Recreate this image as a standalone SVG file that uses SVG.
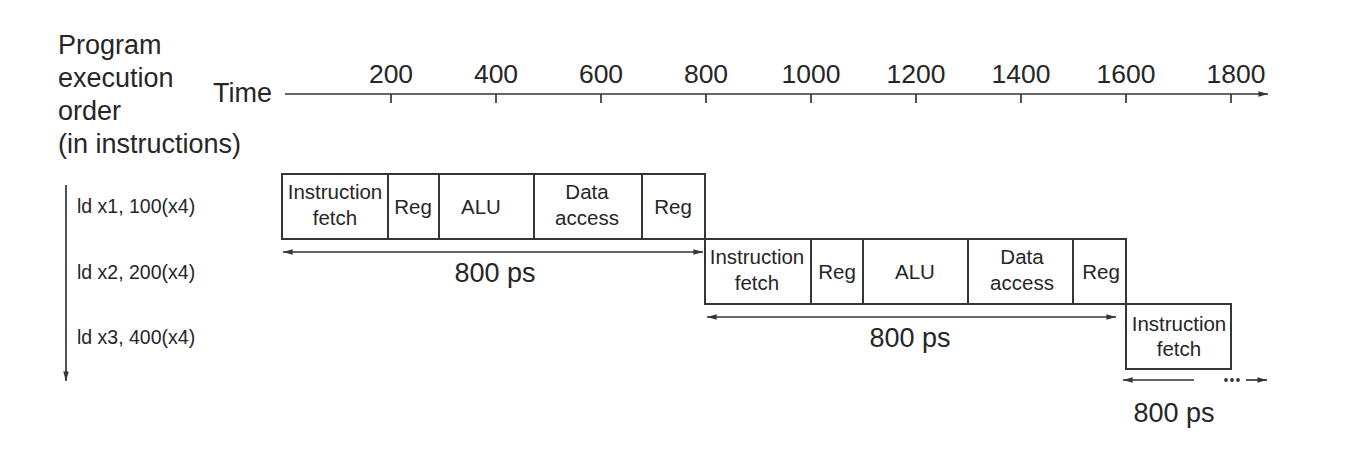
<svg xmlns="http://www.w3.org/2000/svg" width="1350" height="465" viewBox="0 0 1350 465">
<style>
text{font-family:"Liberation Sans",Arial,sans-serif;fill:#262626}
.big{font-size:27px}
.tick{font-size:26.5px;text-anchor:middle}
.row{font-size:19.5px}
.box{font-size:20.5px;text-anchor:middle}
.ps{font-size:27px;text-anchor:middle}
.stage{fill:#fff;stroke:#353535;stroke-width:2}
.ln{stroke:#353535;stroke-width:1.7;fill:none}
</style>
<defs>
<marker id="ah" viewBox="0 0 12 10" refX="12" refY="5" markerWidth="12" markerHeight="8" markerUnits="userSpaceOnUse" orient="auto-start-reverse">
<path d="M0,1.5 L12,5 L0,8.5 Z" fill="#353535"/>
</marker>
</defs>
<rect width="1350" height="465" fill="#fff"/>
<g id="titles">
<text class="big" x="58" y="54">Program</text>
<text class="big" x="58" y="87">execution</text>
<text class="big" x="58" y="120">order</text>
<text class="big" x="58" y="153">(in instructions)</text>
<text class="big" x="213" y="102">Time</text>
</g>
<g id="time-axis">
<line class="ln" x1="285" y1="94" x2="1268" y2="94" marker-end="url(#ah)"/>
<g class="ln">
<line x1="391" y1="94" x2="391" y2="103"/>
<line x1="496" y1="94" x2="496" y2="103"/>
<line x1="601" y1="94" x2="601" y2="103"/>
<line x1="706" y1="94" x2="706" y2="103"/>
<line x1="811" y1="94" x2="811" y2="103"/>
<line x1="916" y1="94" x2="916" y2="103"/>
<line x1="1021" y1="94" x2="1021" y2="103"/>
<line x1="1126" y1="94" x2="1126" y2="103"/>
<line x1="1231" y1="94" x2="1231" y2="103"/>
</g>
<text class="tick" x="391" y="83">200</text>
<text class="tick" x="496" y="83">400</text>
<text class="tick" x="601" y="83">600</text>
<text class="tick" x="706" y="83">800</text>
<text class="tick" x="811" y="83">1000</text>
<text class="tick" x="916" y="83">1200</text>
<text class="tick" x="1021" y="83">1400</text>
<text class="tick" x="1126" y="83">1600</text>
<text class="tick" x="1236" y="83">1800</text>
</g>
<g id="order-axis">
<line class="ln" x1="66" y1="185" x2="66" y2="381" marker-end="url(#ah)"/>
<text class="row" x="77" y="213">ld x1, 100(x4)</text>
<text class="row" x="77" y="279">ld x2, 200(x4)</text>
<text class="row" x="77" y="344">ld x3, 400(x4)</text>
</g>
<g id="instr1">
<rect class="stage" x="282" y="174" width="106" height="65"/>
<rect class="stage" x="388" y="174" width="51" height="65"/>
<rect class="stage" x="439" y="174" width="95" height="65"/>
<rect class="stage" x="534" y="174" width="108" height="65"/>
<rect class="stage" x="642" y="174" width="63" height="65"/>
<text class="box" x="335" y="199">Instruction</text>
<text class="box" x="335" y="225">fetch</text>
<text class="box" x="413" y="214">Reg</text>
<text class="box" x="481" y="214">ALU</text>
<text class="box" x="587" y="199">Data</text>
<text class="box" x="587" y="225">access</text>
<text class="box" x="673" y="214">Reg</text>
</g>
<g id="instr2">
<rect class="stage" x="705" y="239" width="106" height="65"/>
<rect class="stage" x="811" y="239" width="52" height="65"/>
<rect class="stage" x="863" y="239" width="105" height="65"/>
<rect class="stage" x="968" y="239" width="105" height="65"/>
<rect class="stage" x="1073" y="239" width="53" height="65"/>
<text class="box" x="757" y="264">Instruction</text>
<text class="box" x="757" y="290">fetch</text>
<text class="box" x="837" y="279">Reg</text>
<text class="box" x="915" y="279">ALU</text>
<text class="box" x="1022" y="264">Data</text>
<text class="box" x="1022" y="290">access</text>
<text class="box" x="1101" y="279">Reg</text>
</g>
<g id="instr3">
<rect class="stage" x="1126" y="304" width="105" height="65"/>
<text class="box" x="1179" y="331">Instruction</text>
<text class="box" x="1179" y="356">fetch</text>
</g>
<g id="connectors">
<line class="ln" x1="283" y1="252" x2="703" y2="252" marker-start="url(#ah)" marker-end="url(#ah)"/>
<line class="ln" x1="707" y1="317" x2="1116" y2="317" marker-start="url(#ah)" marker-end="url(#ah)"/>
<line class="ln" x1="1194" y1="380" x2="1123" y2="380" marker-end="url(#ah)"/>
<line class="ln" x1="1246" y1="380" x2="1267" y2="380" marker-end="url(#ah)"/>
<g fill="#353535">
<circle cx="1226" cy="380" r="1.9"/>
<circle cx="1232" cy="380" r="1.9"/>
<circle cx="1238" cy="380" r="1.9"/>
</g>
</g>
<g id="durations">
<text class="ps" x="495" y="282">800 ps</text>
<text class="ps" x="910" y="347">800 ps</text>
<text class="ps" x="1174" y="422">800 ps</text>
</g>
</svg>
